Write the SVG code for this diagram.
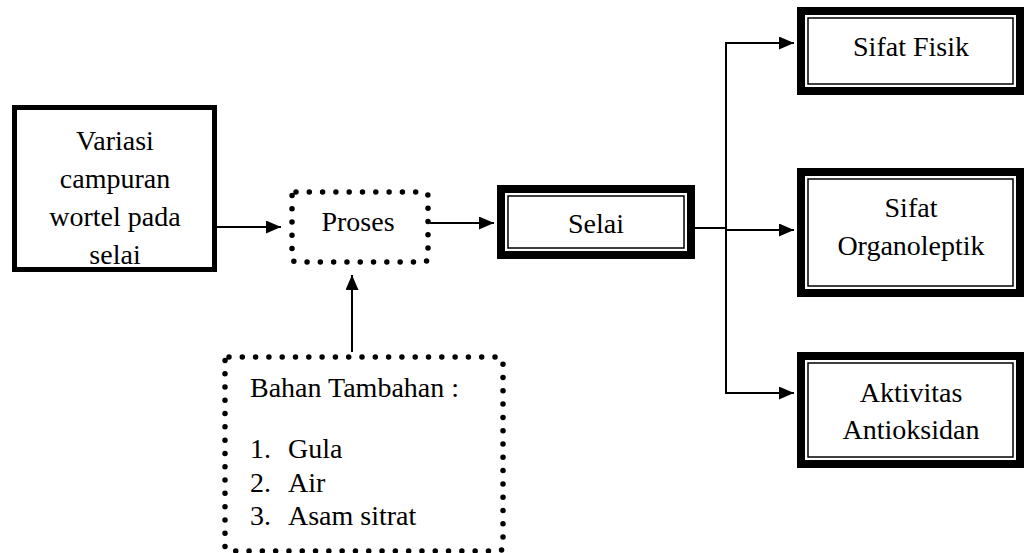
<svg xmlns="http://www.w3.org/2000/svg" width="1027" height="553" viewBox="0 0 1027 553">
<defs>
<marker id="arr" markerUnits="userSpaceOnUse" markerWidth="15" markerHeight="13" refX="15" refY="6.5" orient="auto">
<path d="M0,0 L15,6.5 L0,13 Z" fill="#000"/>
</marker>
<style>
svg text, g text, text, tspan{font-family:"Liberation Serif",serif !important;font-size:28px;fill:#000}
.c{text-anchor:middle}
.thick{fill:#fff;stroke:#000;stroke-width:5}
.outer{fill:#fff;stroke:#000;stroke-width:8}
.inner{fill:none;stroke:#000;stroke-width:1.5}
.dot{fill:none;stroke:#000;stroke-width:5.5;stroke-linecap:round;stroke-dasharray:0 13.3}
.ln{fill:none;stroke:#000;stroke-width:2}
</style>
</defs>
<rect width="1027" height="553" fill="#fff"/>
<g id="connectors">
<line class="ln" x1="217" y1="227" x2="281" y2="227" marker-end="url(#arr)"/>
<line class="ln" x1="430" y1="223" x2="494" y2="223" marker-end="url(#arr)"/>
<line class="ln" x1="352" y1="352" x2="352" y2="275" marker-end="url(#arr)"/>
<line class="ln" x1="695" y1="228" x2="726" y2="228"/>
<line class="ln" x1="726" y1="42" x2="726" y2="394"/>
<line class="ln" x1="725" y1="43" x2="794" y2="43" marker-end="url(#arr)"/>
<line class="ln" x1="726" y1="230" x2="794" y2="230" marker-end="url(#arr)"/>
<line class="ln" x1="725" y1="393" x2="794" y2="393" marker-end="url(#arr)"/>
</g>
<g id="variasi">
<rect class="thick" x="14.5" y="107.5" width="200" height="162"/>
<text class="c" style="font-family:'Liberation Serif'" x="115" y="150">Variasi</text>
<text class="c" style="font-family:'Liberation Serif'" x="115" y="188">campuran</text>
<text class="c" style="font-family:'Liberation Serif'" x="115" y="226">wortel pada</text>
<text class="c" style="font-family:'Liberation Serif'" x="115" y="264">selai</text>
</g>
<g id="proses">
<rect class="dot" x="292" y="192" width="136" height="70" rx="4"/>
<text class="c" style="font-family:'Liberation Serif'" x="358" y="231">Proses</text>
</g>
<g id="bahan">
<rect class="dot" x="225" y="357" width="278" height="194" rx="4"/>
<text style="font-family:'Liberation Serif'" x="250" y="397">Bahan Tambahan :</text>
<text style="font-family:'Liberation Serif'" x="250" y="458">1.</text>
<text style="font-family:'Liberation Serif'" x="288" y="458">Gula</text>
<text style="font-family:'Liberation Serif'" x="250" y="492">2.</text>
<text style="font-family:'Liberation Serif'" x="288" y="492">Air</text>
<text style="font-family:'Liberation Serif'" x="250" y="525">3.</text>
<text style="font-family:'Liberation Serif'" x="288" y="525">Asam sitrat</text>
</g>
<g id="selai">
<rect class="outer" x="501" y="189" width="190" height="66"/>
<rect class="inner" x="508" y="196" width="176" height="52"/>
<text class="c" style="font-family:'Liberation Serif'" x="596" y="233">Selai</text>
</g>
<g id="fisik">
<rect class="outer" x="801" y="11" width="219" height="80"/>
<rect class="inner" x="808" y="18" width="205" height="66"/>
<text class="c" style="font-family:'Liberation Serif'" x="911" y="56">Sifat Fisik</text>
</g>
<g id="organoleptik">
<rect class="outer" x="801" y="172" width="219" height="121"/>
<rect class="inner" x="808" y="179" width="205" height="107"/>
<text class="c" style="font-family:'Liberation Serif'" x="911" y="217">Sifat</text>
<text class="c" style="font-family:'Liberation Serif'" x="911" y="255">Organoleptik</text>
</g>
<g id="antioksidan">
<rect class="outer" x="801" y="356" width="219" height="108"/>
<rect class="inner" x="808" y="363" width="205" height="94"/>
<text class="c" style="font-family:'Liberation Serif'" x="911" y="402">Aktivitas</text>
<text class="c" style="font-family:'Liberation Serif'" x="911" y="439">Antioksidan</text>
</g>
</svg>
